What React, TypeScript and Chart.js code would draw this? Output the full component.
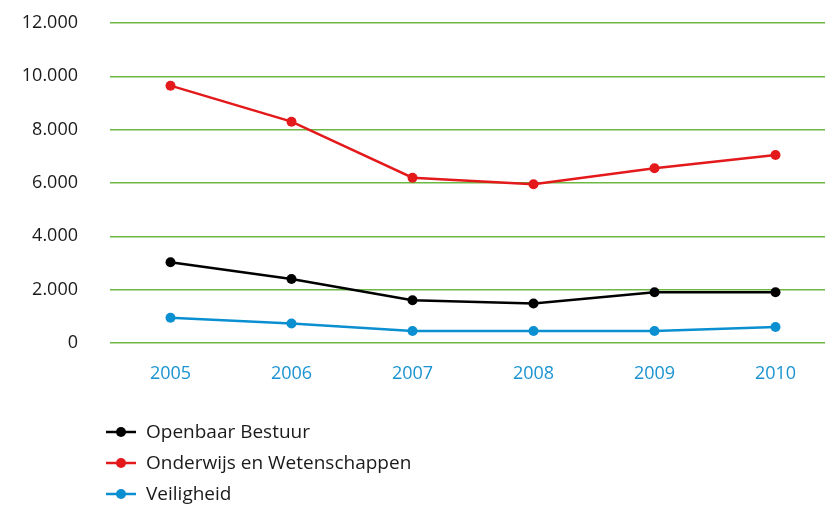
import React, { useEffect, useRef } from "react";
import { Chart, registerables } from "chart.js";

Chart.register(...registerables);

const years = ["2005", "2006", "2007", "2008", "2009", "2010"];
const openbaarBestuur = [3030, 2400, 1600, 1480, 1900, 1900];
const onderwijs = [9650, 8300, 6200, 5950, 6550, 7050];
const veiligheid = [950, 730, 450, 450, 450, 600];
const yTicks = [0, 2000, 4000, 6000, 8000, 10000, 12000];

const FONT = "'Open Sans', 'Noto Sans', sans-serif";

const verticalLegend = {
  id: "verticalLegend",
  afterDraw(chart: any) {
    const ctx = chart.ctx;
    ctx.save();
    chart.data.datasets.forEach((ds: any, i: number) => {
      const y = 432 + i * 31;
      const x0 = 106;
      ctx.strokeStyle = ds.borderColor;
      ctx.lineWidth = 2.5;
      ctx.beginPath();
      ctx.moveTo(x0, y);
      ctx.lineTo(x0 + 30, y);
      ctx.stroke();
      ctx.fillStyle = ds.borderColor;
      ctx.beginPath();
      ctx.arc(x0 + 15, y, 5, 0, Math.PI * 2);
      ctx.fill();
      ctx.fillStyle = "#1a1a1a";
      ctx.font = `19px ${FONT}`;
      ctx.textBaseline = "middle";
      ctx.textAlign = "left";
      ctx.fillText(ds.label, 146, y + 1);
    });
    ctx.restore();
  },
};

export default function App() {
  const ref = useRef<HTMLCanvasElement>(null);
  useEffect(() => {
    document.body.style.margin = "0";
    const mk = (label: string, data: number[], color: string) => ({
      label,
      data,
      borderColor: color,
      backgroundColor: color,
      borderWidth: 2.5,
      pointRadius: 5,
      pointBackgroundColor: color,
      pointBorderWidth: 0,
      tension: 0,
    });
    const chart = new Chart(ref.current!, {
      type: "line",
      data: {
        labels: years,
        datasets: [
          mk("Openbaar Bestuur", openbaarBestuur, "#000000"),
          mk("Onderwijs en Wetenschappen", onderwijs, "#e3191b"),
          mk("Veiligheid", veiligheid, "#0a8fd0"),
        ],
      },
      options: {
        animation: false,
        responsive: false,
        maintainAspectRatio: false,
        layout: { autoPadding: false, padding: { top: 23, right: 0, left: 0, bottom: 123 } },
        plugins: {
          legend: { display: false },
          title: { display: false },
          tooltip: { enabled: false },
        },
        scales: {
          x: {
            offset: true,
            grid: { display: false },
            border: { display: false },
            afterFit(axis: any) {
              axis.height = 40;
              axis.paddingLeft = 0;
              axis.paddingRight = 0;
            },
            ticks: {
              color: "#1a93d3",
              font: { family: FONT, size: 18 },
              padding: 12,
              maxRotation: 0,
            },
          },
          y: {
            min: 0,
            max: 12000,
            afterBuildTicks(axis: any) {
              axis.ticks = yTicks.map((v) => ({ value: v }));
            },
            afterFit(axis: any) {
              axis.width = 110;
              axis.paddingTop = 0;
              axis.paddingBottom = 0;
            },
            grid: { color: "#6cb843", lineWidth: 1.5, drawTicks: false },
            border: { display: false },
            ticks: {
              color: "#1a1a1a",
              font: { family: FONT, size: 18 },
              padding: 32,
              callback: (v: any) => Number(v).toLocaleString("nl-NL"),
            },
          },
        },
      },
      plugins: [verticalLegend],
    });
    return () => chart.destroy();
  }, []);
  return (
    <div style={{ width: 825, height: 506, overflow: "hidden", position: "relative" }}>
      <canvas ref={ref} width={836} height={506} style={{ width: 836, height: 506, display: "block" }} />
    </div>
  );
}
